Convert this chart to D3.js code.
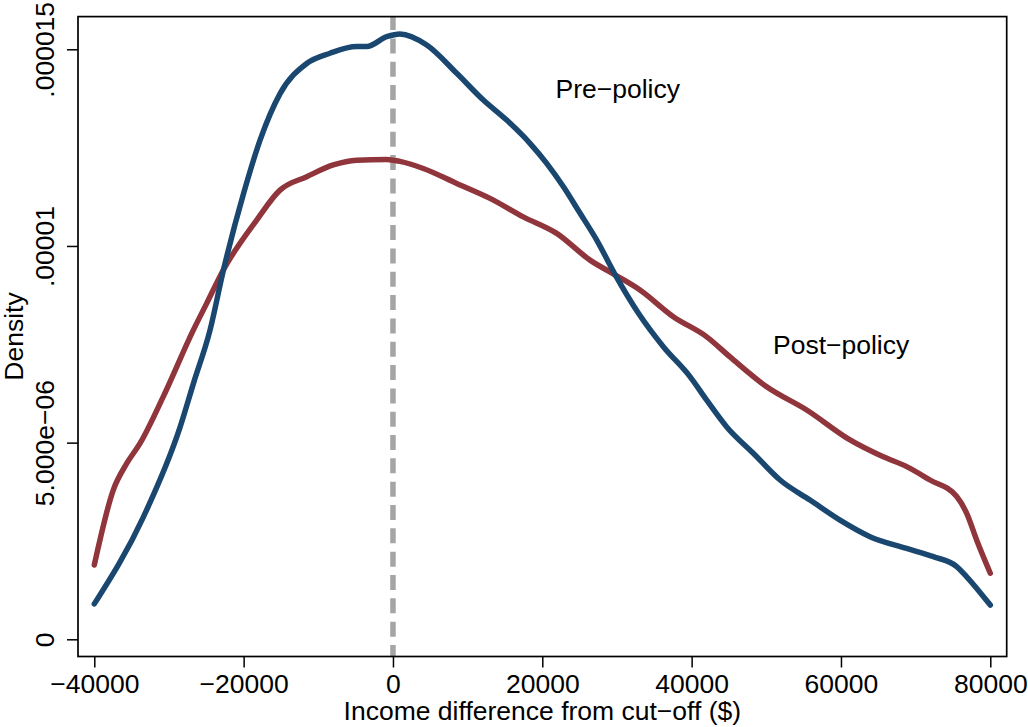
<!DOCTYPE html>
<html>
<head>
<meta charset="utf-8">
<script src="https://cdn.jsdelivr.net/npm/d3@7"></script>
<style>
  body { margin: 0; background: #fff; }
  svg { display: block; }
  text { font-family: "Liberation Sans", Arial, Helvetica, sans-serif; fill: #000; }
</style>
</head>
<body>
<svg id="chart"></svg>
<script>
// income difference from cut-off ($), density in units of 1e-6
var preIncome = [-40000, -33400, -28500, -26700, -24500, -22700, -20000, -17800, -15100, -11550, -8430, -4860, -3520, -840, 940, 4520, 8540, 12100, 15230, 18350, 20590, 22810, 25000, 27290, 29790, 32880, 36210, 39780, 42020, 44700, 48260, 51840, 55850, 59870, 63890, 68800, 72370, 75500, 76840, 80000];
var preDensity = [0.90, 3.12, 5.40, 6.52, 7.86, 9.39, 11.34, 12.69, 13.88, 14.64, 14.90, 15.07, 15.07, 15.32, 15.39, 15.11, 14.39, 13.71, 13.20, 12.61, 12.10, 11.51, 10.85, 10.15, 9.26, 8.29, 7.44, 6.68, 6.08, 5.40, 4.73, 4.05, 3.54, 3.03, 2.61, 2.31, 2.10, 1.85, 1.59, 0.87];

var postIncome = [-40000, -37450, -35660, -33880, -30760, -26740, -24950, -22720, -18250, -15130, -11550, -7990, -4860, -840, 940, 4060, 8540, 13000, 17450, 21930, 26390, 29790, 33080, 37550, 42020, 45140, 50050, 55410, 61210, 65670, 68800, 71920, 75500, 76840, 78180, 80000];
var postDensity = [1.89, 3.80, 4.47, 4.98, 6.17, 7.86, 8.54, 9.39, 10.66, 11.42, 11.76, 12.06, 12.18, 12.20, 12.15, 11.97, 11.59, 11.21, 10.74, 10.32, 9.64, 9.26, 8.88, 8.20, 7.69, 7.18, 6.42, 5.83, 5.07, 4.64, 4.39, 4.05, 3.63, 3.20, 2.52, 1.68];

var xTicks = [-40000, -20000, 0, 20000, 40000, 60000, 80000];
var xTickLabels = ["\u221240000", "\u221220000", "0", "20000", "40000", "60000", "80000"];
var yTicks = [0, 0.000005, 0.00001, 0.000015];
var yTickLabels = ["0", "5.000e\u221206", ".00001", ".000015"];
var cutoff = 0;

var svgWidth = 1028, svgHeight = 727;
var frame = { left: 78, right: 1006.7, top: 16.6, bottom: 656.5 };
var fontSize = "26.5px";

var svg = d3.select("#chart")
    .attr("width", svgWidth)
    .attr("height", svgHeight);

var x = d3.scaleLinear()
    .domain([-40000, 80000])
    .range([94.3, 990.3]);

var y = d3.scaleLinear()
    .domain([0, 0.000015])
    .range([639.3, 49.3]);

var line = d3.line()
    .x(function(d) { return x(d.income); })
    .y(function(d) { return y(d.density * 1e-6); })
    .curve(d3.curveMonotoneX);

function zip(xs, ys) {
    return xs.map(function(v, i) { return { income: v, density: ys[i] }; });
}

// cut-off line
svg.append("line")
    .attr("x1", x(cutoff)).attr("x2", x(cutoff))
    .attr("y1", frame.top).attr("y2", frame.bottom)
    .attr("stroke", "#a5a5a5")
    .attr("stroke-width", 5.5)
    .attr("stroke-dasharray", "15,8.33")
    .attr("stroke-dashoffset", 1.5);

svg.append("path")
    .datum(zip(postIncome, postDensity))
    .attr("fill", "none")
    .attr("stroke", "#90353b")
    .attr("stroke-width", 5.5)
    .attr("stroke-linejoin", "round")
    .attr("stroke-linecap", "round")
    .attr("d", line);

svg.append("path")
    .datum(zip(preIncome, preDensity))
    .attr("fill", "none")
    .attr("stroke", "#1a476f")
    .attr("stroke-width", 5.5)
    .attr("stroke-linejoin", "round")
    .attr("stroke-linecap", "round")
    .attr("d", line);

// frame
svg.append("rect")
    .attr("x", frame.left).attr("y", frame.top)
    .attr("width", frame.right - frame.left)
    .attr("height", frame.bottom - frame.top)
    .attr("fill", "none")
    .attr("stroke", "#000")
    .attr("stroke-width", 1.7);

// x axis
var gx = svg.append("g")
    .attr("transform", "translate(0," + frame.bottom + ")")
    .call(d3.axisBottom(x)
        .tickValues(xTicks)
        .tickSize(11)
        .tickFormat(function(d, i) { return xTickLabels[i]; }));
gx.select(".domain").remove();
gx.selectAll(".tick line").attr("stroke", "#000").attr("stroke-width", 1.5);
gx.selectAll(".tick text")
    .attr("y", 36)
    .attr("dy", 0)
    .attr("font-size", fontSize)
    .attr("font-family", null);

// y axis
var gy = svg.append("g")
    .attr("transform", "translate(" + frame.left + ",0)")
    .call(d3.axisLeft(y)
        .tickValues(yTicks)
        .tickSize(11)
        .tickFormat(function(d, i) { return yTickLabels[i]; }));
gy.select(".domain").remove();
gy.selectAll(".tick line").attr("stroke", "#000").attr("stroke-width", 1.5);
gy.selectAll(".tick text")
    .attr("x", 0)
    .attr("dy", 0)
    .attr("text-anchor", "middle")
    .attr("transform", "translate(-24,0) rotate(-90)")
    .attr("font-size", fontSize)
    .attr("font-family", null);

// axis titles
svg.append("text")
    .attr("x", (frame.left + frame.right) / 2)
    .attr("y", 720)
    .attr("text-anchor", "middle")
    .attr("font-size", fontSize)
    .text("Income difference from cut\u2212off ($)");

svg.append("text")
    .attr("transform", "translate(23," + (frame.top + frame.bottom) / 2 + ") rotate(-90)")
    .attr("text-anchor", "middle")
    .attr("font-size", fontSize)
    .text("Density");

// series labels
svg.append("text")
    .attr("x", 555.5)
    .attr("y", 98)
    .attr("font-size", fontSize)
    .text("Pre\u2212policy");

svg.append("text")
    .attr("x", 773)
    .attr("y", 353.5)
    .attr("font-size", fontSize)
    .text("Post\u2212policy");
</script>
</body>
</html>
